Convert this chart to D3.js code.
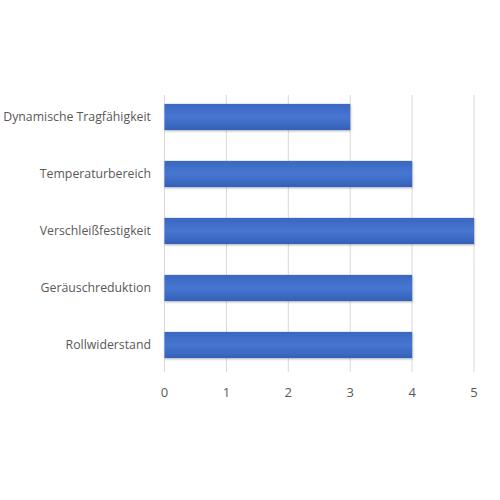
<!DOCTYPE html>
<html><head><meta charset="utf-8">
<script src="https://cdn.jsdelivr.net/npm/d3@7"></script>
<style>body{margin:0;background:#fff}svg{display:block}</style>
</head><body>
<svg id="c" width="500" height="500"></svg>
<script>
const categories = ["Dynamische Tragfähigkeit","Temperaturbereich","Verschleißfestigkeit","Geräuschreduktion","Rollwiderstand"];
const values = [3,4,5,4,4];
const ticks = [0,1,2,3,4,5];

const svg = d3.select("#c");
const x = d3.scaleLinear().domain([0,5]).range([164.5,474]);
const y = d3.scaleBand().domain(categories).range([88.5,373.5]).paddingInner(0.54).paddingOuter(0.27);

const defs = svg.append("defs");
const g = defs.append("linearGradient").attr("id","bg").attr("x1",0).attr("y1",0).attr("x2",0).attr("y2",1);
g.append("stop").attr("offset","0%").attr("stop-color","#3a68bf");
g.append("stop").attr("offset","50%").attr("stop-color","#4676d2");
g.append("stop").attr("offset","100%").attr("stop-color","#3461b6");
const f = defs.append("filter").attr("id","sh").attr("x","-5%").attr("y","-30%").attr("width","110%").attr("height","160%");
f.append("feDropShadow").attr("dx",0.5).attr("dy",1).attr("stdDeviation",1.2).attr("flood-color","#000").attr("flood-opacity",0.3);

// gridlines
svg.append("g").selectAll("line").data(ticks).join("line")
  .attr("x1",d=>x(d)).attr("x2",d=>x(d)).attr("y1",95).attr("y2",372)
  .attr("stroke","#d9d9d9").attr("stroke-width",1);

// bars
svg.append("g").selectAll("rect").data(values).join("rect")
  .attr("x",x(0)).attr("y",(d,i)=>y(categories[i]))
  .attr("width",d=>x(d)-x(0)).attr("height",y.bandwidth())
  .attr("fill","url(#bg)").attr("filter","url(#sh)");

const font = "'Open Sans', sans-serif";
// category labels
svg.append("g").selectAll("text").data(categories).join("text")
  .attr("x",151).attr("y",d=>y(d)+y.bandwidth()/2).attr("dy","0.35em")
  .attr("text-anchor","end").attr("font-family",font).attr("font-size",12.3)
  .attr("fill","#595959").text(d=>d);

// tick labels
svg.append("g").selectAll("text").data(ticks).join("text")
  .attr("x",d=>x(d)).attr("y",392).attr("dy","0.35em")
  .attr("text-anchor","middle").attr("font-family",font).attr("font-size",13)
  .attr("fill","#595959").text(d=>d);
</script>
</body></html>
